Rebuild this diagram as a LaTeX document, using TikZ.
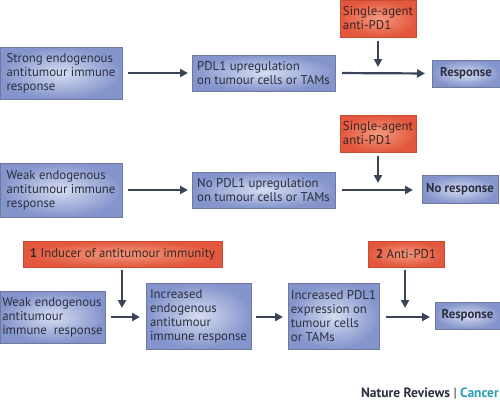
\documentclass[tikz,border=0pt]{standalone}
\usepackage{fontspec}
\setmainfont{PT Sans}
\usetikzlibrary{arrows.meta}
\definecolor{txt}{HTML}{2B3040}
\definecolor{rtxt}{HTML}{3A2624}
\definecolor{arr}{HTML}{3B4456}
\definecolor{bin}{HTML}{D6DCF1}
\definecolor{bout}{HTML}{8494CC}
\definecolor{bbrd}{HTML}{6F7A9A}
\definecolor{rin}{HTML}{F3997E}
\definecolor{rout}{HTML}{E2573D}
\definecolor{rbrd}{HTML}{C94B34}
\definecolor{teal}{HTML}{2A9FB0}
\tikzset{
  bbox/.style={draw=bbrd, line width=0.8pt, inner color=bin, outer color=bout,
    inner sep=0pt, outer sep=0pt, text=txt, font=\fontsize{12.8}{14}\selectfont,
    align=left, anchor=center},
  rbox/.style={draw=rbrd, line width=0.8pt, inner color=rin, outer color=rout,
    inner sep=0pt, outer sep=0pt, text=rtxt, font=\fontsize{12.8}{14}\selectfont,
    align=left, anchor=center},
  con/.style={draw=arr, line width=2.2pt, -{Triangle[length=8pt,width=8pt]}},
}
\begin{document}
\begin{tikzpicture}[x=1pt,y=-1pt]
\useasboundingbox (0,0) rectangle (500,400);
% Row 1
\node[bbox, minimum width=122pt, minimum height=52pt] (b1) at (61,73)
  {Strong endogenous\\antitumour immune\\response};
\node[bbox, minimum width=143pt, minimum height=36pt] (b2) at (263.5,73)
  {PDL1 upregulation\\on tumour cells or TAMs};
\node[rbox, minimum width=76pt, minimum height=37pt] (r1) at (378,18.5)
  {Single-agent\\anti-PD1};
\node[bbox, minimum width=68pt, minimum height=27pt, align=center] (s1) at (466,73.5)
  {\textbf{Response}};
\coordinate (j1) at (378,74);
\draw[con, shorten <=6pt, shorten >=4pt] (b1.east) -- (b2.west);
\draw[con, shorten <=7pt, shorten >=7pt] (b2.east) -- (s1.west);
\draw[con, shorten <=4pt, shorten >=7pt] (r1.south -| j1) -- (j1);
% Row 2
\node[bbox, minimum width=122pt, minimum height=54pt] (b3) at (61,190)
  {Weak endogenous\\antitumour immune\\response};
\node[bbox, minimum width=143pt, minimum height=36pt] (b4) at (263.5,190)
  {No PDL1 upregulation\\on tumour cells or TAMs};
\node[rbox, minimum width=76pt, minimum height=37pt] (r2) at (378,133.5)
  {Single-agent\\anti-PD1};
\node[bbox, minimum width=76pt, minimum height=28pt, align=center] (s2) at (460,189.5)
  {\textbf{No response}};
\coordinate (j2) at (378,190);
\draw[con, shorten <=6pt, shorten >=4pt] (b3.east) -- (b4.west);
\draw[con, shorten <=7pt, shorten >=9pt] (b4.east) -- (b4.east -| s2.west);
\draw[con, shorten <=4pt, shorten >=7pt] (r2.south -| j2) -- (j2);
% Row 3
\node[rbox, minimum width=199pt, minimum height=26pt, align=center] (r3) at (122.5,254)
  {\textbf{1} Inducer of antitumour immunity};
\node[bbox, minimum width=105pt, minimum height=52pt] (b5) at (52.5,317)
  {Weak endogenous\\antitumour\\immune\ \ response};
\node[bbox, minimum width=105pt, minimum height=66pt] (b6) at (198.5,316)
  {Increased\\endogenous\\antitumour\\immune response};
\node[bbox, minimum width=91pt, minimum height=66pt] (b7) at (333.5,316)
  {Increased PDL1\\expression on\\tumour cells\\or TAMs};
\node[rbox, minimum width=76pt, minimum height=26pt, align=center] (r4) at (406,254)
  {\textbf{2} Anti-PD1};
\node[bbox, minimum width=65pt, minimum height=27pt, align=center] (s3) at (467.5,315.5)
  {\textbf{Response}};
\coordinate (j3) at (122,317);
\coordinate (j4) at (405,317);
\draw[con, shorten <=6pt, shorten >=6pt] (b5.east |- j3) -- (b6.west |- j3);
\draw[con, shorten <=5pt, shorten >=5pt] (b6.east |- j3) -- (b7.west |- j3);
\draw[con, shorten <=7pt, shorten >=5pt] (b7.east |- j3) -- (s3.west |- j3);
\draw[con, shorten <=3pt, shorten >=9pt] (r3.south -| j3) -- (j3);
\draw[con, shorten <=3pt, shorten >=9pt] (r4.south -| j4) -- (j4);
% Footer
\node[anchor=base east, inner sep=0pt, font=\fontsize{13.5}{15}\selectfont\bfseries] (ft) at (499,397)
  {\textcolor{txt}{Nature Reviews} \textcolor{txt}{\textmd{|}} \textcolor{teal}{Cancer}};
\end{tikzpicture}
\end{document}
